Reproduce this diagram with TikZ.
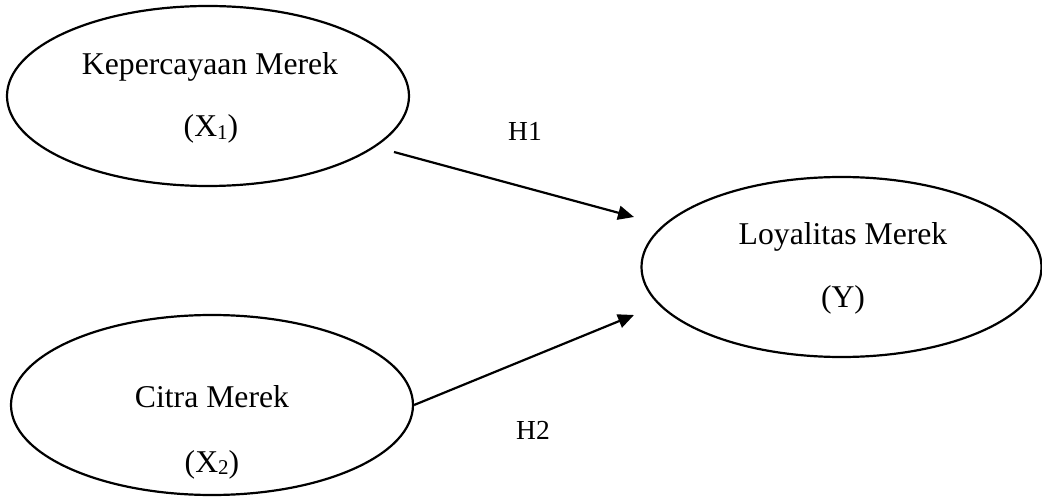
\documentclass[tikz,border=0pt]{standalone}
\usepackage{fontspec}
\setmainfont{Liberation Serif}
\usetikzlibrary{shapes.geometric,arrows.meta}
\newcommand{\subdig}[1]{\raisebox{-2.5pt}{\fontsize{21}{21}\selectfont #1}}
\begin{document}
\begin{tikzpicture}[x=1pt,y=-1pt,
  construct/.style={draw=black, line width=2.2pt, ellipse, minimum width=402pt, minimum height=180pt, inner sep=0pt},
  lbl/.style={anchor=base, inner sep=0pt, font=\fontsize{31.7}{38}\selectfont},
  hyp/.style={anchor=base, inner sep=0pt, font=\fontsize{27.5}{30}\selectfont},
  link/.style={line width=2.2pt, -{Triangle[length=16pt,width=14pt]}}]
\useasboundingbox (0,0) rectangle (1042,497);
\node[construct] (x1) at (208,96) {};
\node[construct] (x2) at (212,405) {};
\node[construct, minimum width=400pt] (y) at (841.5,267) {};
\node[lbl] (x1a) at (210,75) {Kepercayaan Merek};
\node[lbl] (x1b) at (211,137) {(X\subdig{1})};
\node[lbl] (x2a) at (212,407) {Citra Merek};
\node[lbl] (x2b) at (212,472) {(X\subdig{2})};
\node[lbl] (ya) at (843,245) {Loyalitas Merek};
\node[lbl] (yb) at (843,307) {(Y)};
\node[hyp] (h1) at (525,141) {H1};
\node[hyp] (h2) at (533,439) {H2};
\coordinate (h1s) at (394,152);
\coordinate (h1e) at (634,217);
\coordinate (h2e) at (634,315);
\draw[link] (h1s) -- (h1e);
\draw[link] (x2.east) -- (h2e);
\end{tikzpicture}
\end{document}
